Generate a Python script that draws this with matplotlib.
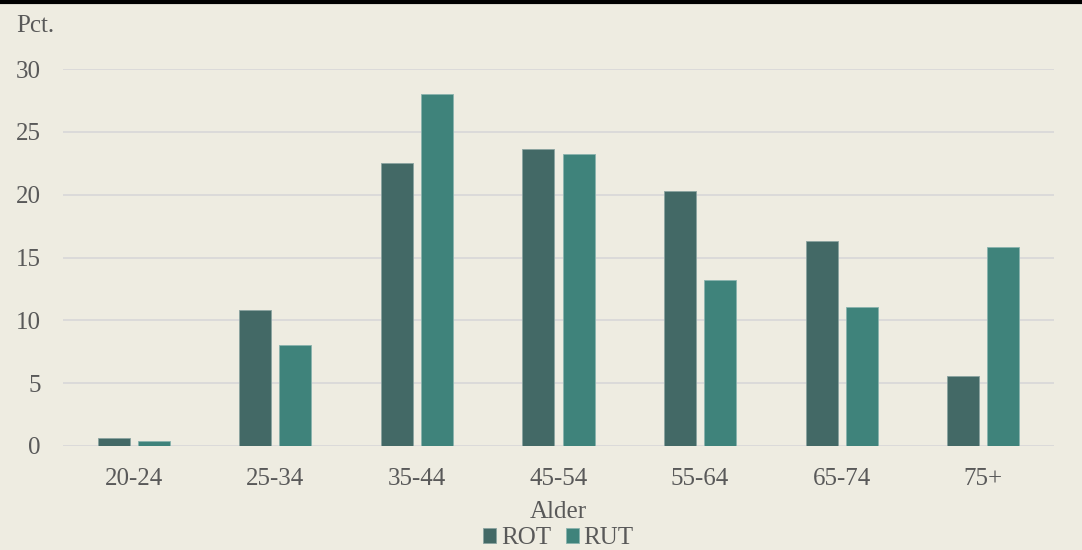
import matplotlib.pyplot as plt
import numpy as np

# aldersgrupper og andele (pct.)
aldre = ['20-24', '25-34', '35-44', '45-54', '55-64', '65-74', '75+']
rot = [0.65, 10.8, 22.5, 23.6, 20.3, 16.3, 5.6]
rut = [0.4, 8.05, 28.0, 23.2, 13.2, 11.1, 15.8]

bg = '#eeece1'
tekst = '#595959'
plt.rcParams['font.family'] = ['Liberation Serif', 'DejaVu Serif']

fig = plt.figure(figsize=(10.82, 5.5), dpi=100, facecolor=bg)
ax = fig.add_axes([63 / 1082, 1 - 446 / 550, 991 / 1082, (446 - 69) / 550])
ax.set_facecolor(bg)

x = np.arange(len(aldre))
b = 0.226
ax.bar(x - 0.142, rot, b, color='#436966', edgecolor='#8aa3a0', linewidth=0.6, label='ROT', zorder=3)
ax.bar(x + 0.142, rut, b, color='#3f837b', edgecolor='#8ab3ad', linewidth=0.6, label='RUT', zorder=3)

ax.set_xlim(-0.5, len(aldre) - 0.5)
ax.set_ylim(0, 30)
ax.set_yticks(range(0, 31, 5))
ax.yaxis.grid(True, color='#d9d9d9', linewidth=1.3, zorder=0)
ax.set_xticks(x)
ax.set_xticklabels(aldre)
for s in ax.spines.values():
    s.set_visible(False)
ax.tick_params(length=0, labelsize=18, colors=tekst)
ax.tick_params(axis='y', pad=16)
ax.tick_params(axis='x', pad=16)
ax.set_xlabel('Alder', fontsize=18, color=tekst, labelpad=8)

fig.text(16 / 1082, 1 - 26 / 550, 'Pct.', fontsize=18, color=tekst, va='center', ha='left')

leg = ax.legend(loc='center', bbox_to_anchor=(0.5, -0.245), ncol=2, frameon=False,
                fontsize=18, handlelength=0.5, handleheight=0.5, handletextpad=0.2,
                columnspacing=0.6, labelcolor=tekst)

# sort kant øverst
fig.add_artist(plt.Line2D([0, 1], [1 - 1.5 / 550, 1 - 1.5 / 550], color='black', linewidth=3))

fig.savefig('out.png', dpi=100, facecolor=bg)
